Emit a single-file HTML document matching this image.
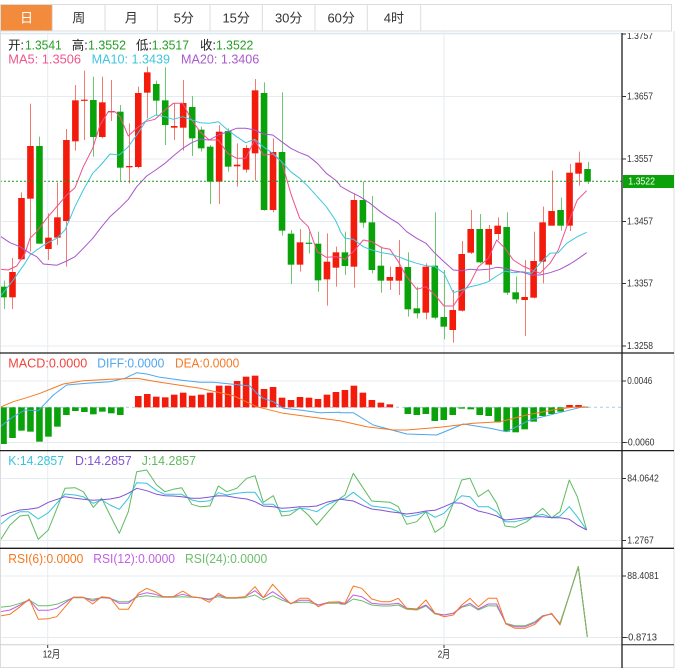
<!DOCTYPE html>
<html>
<head>
<meta charset="utf-8">
<style>
html,body{margin:0;padding:0;background:#fff;width:679px;height:670px;overflow:hidden;}
svg{display:block;font-family:"Liberation Sans","Noto Sans CJK SC",sans-serif;}
</style>
</head>
<body>
<svg id="c" width="679" height="670" viewBox="0 0 679 670" xmlns="http://www.w3.org/2000/svg">
<defs>
  <clipPath id="plot"><rect x="0" y="33" width="622" height="612"/></clipPath>
  <clipPath id="topLbl"><rect x="622" y="33" width="57" height="20"/></clipPath>
</defs>
<rect x="0" y="0" width="679" height="670" fill="#fff"/>

<!-- grid -->
<g stroke="#e5ecf1" stroke-width="1">
  <line x1="0" y1="33.5" x2="622" y2="33.5" stroke="#dbe7f0" stroke-width="1.5"/>
  <line x1="0" y1="96.5" x2="622" y2="96.5"/>
  <line x1="0" y1="159" x2="622" y2="159"/>
  <line x1="0" y1="221.5" x2="622" y2="221.5"/>
  <line x1="0" y1="283.5" x2="622" y2="283.5"/>
  <line x1="0" y1="346" x2="622" y2="346"/>
  <line x1="0" y1="381" x2="622" y2="381"/>
  <line x1="0" y1="442.5" x2="622" y2="442.5"/>
  <line x1="0" y1="478.5" x2="622" y2="478.5"/>
  <line x1="0" y1="540.5" x2="622" y2="540.5"/>
  <line x1="0" y1="576" x2="622" y2="576"/>
  <line x1="0" y1="637.5" x2="622" y2="637.5"/>
  <line x1="47.7" y1="31" x2="47.7" y2="645"/>
  <line x1="444" y1="31" x2="444" y2="645"/>
</g>
<line x1="0" y1="407.3" x2="622" y2="407.3" stroke="#a9cfe6" stroke-width="1" stroke-dasharray="3,3"/>

<g id="plotg" clip-path="url(#plot)"></g>

<!-- current price dotted line -->
<line x1="0" y1="181.3" x2="622" y2="181.3" stroke="#1f9a1f" stroke-width="1" stroke-dasharray="2,2"/>

<!-- borders -->
<line x1="0.5" y1="31" x2="0.5" y2="668" stroke="#dcdcdc" stroke-width="1"/>
<line x1="674" y1="31" x2="674" y2="668" stroke="#dcdcdc" stroke-width="1"/>
<line x1="0" y1="667.5" x2="674" y2="667.5" stroke="#dcdcdc" stroke-width="1"/>
<line x1="0" y1="644.7" x2="622" y2="644.7" stroke="#cfcfcf" stroke-width="1"/>
<line x1="622" y1="644.7" x2="674" y2="644.7" stroke="#222" stroke-width="1"/>
<g stroke="#1e1e1e" stroke-width="1.3">
  <line x1="0" y1="353" x2="674" y2="353"/>
  <line x1="0" y1="450.6" x2="674" y2="450.6"/>
  <line x1="0" y1="548.3" x2="674" y2="548.3"/>
  <line x1="622" y1="33" x2="622" y2="668"/>
</g>
<!-- axis ticks -->
<g stroke="#333" stroke-width="1">
  <line x1="622" y1="34" x2="626" y2="34"/>
  <line x1="622" y1="96.5" x2="626" y2="96.5"/>
  <line x1="622" y1="159" x2="626" y2="159"/>
  <line x1="622" y1="221.5" x2="626" y2="221.5"/>
  <line x1="622" y1="283.5" x2="626" y2="283.5"/>
  <line x1="622" y1="346" x2="626" y2="346"/>
  <line x1="622" y1="381" x2="626" y2="381"/>
  <line x1="622" y1="442.5" x2="626" y2="442.5"/>
  <line x1="622" y1="478.5" x2="626" y2="478.5"/>
  <line x1="622" y1="540.5" x2="626" y2="540.5"/>
  <line x1="622" y1="576" x2="626" y2="576"/>
  <line x1="622" y1="637.5" x2="626" y2="637.5"/>
  <line x1="47.7" y1="645" x2="47.7" y2="648"/>
  <line x1="444" y1="645" x2="444" y2="648"/>
</g>

<!-- right axis labels -->
<g font-size="10.5" fill="#333" dominant-baseline="central">
  <text x="627" y="36" textLength="26" lengthAdjust="spacingAndGlyphs" clip-path="url(#topLbl)">1.3757</text>
  <text x="627" y="96.5" textLength="26" lengthAdjust="spacingAndGlyphs">1.3657</text>
  <text x="627" y="159" textLength="26" lengthAdjust="spacingAndGlyphs">1.3557</text>
  <text x="627" y="221.5" textLength="26" lengthAdjust="spacingAndGlyphs">1.3457</text>
  <text x="627" y="283.5" textLength="26" lengthAdjust="spacingAndGlyphs">1.3357</text>
  <text x="627" y="346" textLength="26" lengthAdjust="spacingAndGlyphs">1.3258</text>
  <text x="627.3" y="381" textLength="25" lengthAdjust="spacingAndGlyphs">0.0046</text>
  <text x="625" y="442.7" textLength="29.5" lengthAdjust="spacingAndGlyphs">-0.0060</text>
  <text x="627.3" y="478.3" textLength="31.5" lengthAdjust="spacingAndGlyphs">84.0642</text>
  <text x="627.3" y="540.7" textLength="26.5" lengthAdjust="spacingAndGlyphs">1.2767</text>
  <text x="627.3" y="576" textLength="31.5" lengthAdjust="spacingAndGlyphs">88.4081</text>
  <text x="625" y="637.3" textLength="32" lengthAdjust="spacingAndGlyphs">-0.8713</text>
  <text x="42.7" y="654.5" textLength="17.5" lengthAdjust="spacingAndGlyphs" fill="#222">12月</text>
  <text x="437.7" y="654.5" textLength="12.5" lengthAdjust="spacingAndGlyphs" fill="#222">2月</text>
</g>
<!-- current price box -->
<rect x="623" y="175" width="51" height="13" fill="#0ba10b"/>
<text x="628.3" y="181.6" font-size="10.5" fill="#fff" dominant-baseline="central" textLength="26.7" lengthAdjust="spacingAndGlyphs">1.3522</text>

<!-- header texts -->
<g font-size="12.5" dominant-baseline="central">
  <text x="8" y="45.7" fill="#222">开:</text>
  <text x="25" y="45.7" fill="#23a023" textLength="36.7" lengthAdjust="spacingAndGlyphs">1.3541</text>
  <text x="71.7" y="45.7" fill="#222">高:</text>
  <text x="88" y="45.7" fill="#23a023" textLength="38" lengthAdjust="spacingAndGlyphs">1.3552</text>
  <text x="136" y="45.7" fill="#222">低:</text>
  <text x="151.7" y="45.7" fill="#23a023" textLength="37.3" lengthAdjust="spacingAndGlyphs">1.3517</text>
  <text x="200" y="45.7" fill="#222">收:</text>
  <text x="216" y="45.7" fill="#23a023" textLength="37.3" lengthAdjust="spacingAndGlyphs">1.3522</text>
  <text x="8.3" y="59.3" fill="#f0558c" textLength="72.7" lengthAdjust="spacingAndGlyphs">MA5: 1.3506</text>
  <text x="91.7" y="59.3" fill="#3ec6de" textLength="78.3" lengthAdjust="spacingAndGlyphs">MA10: 1.3439</text>
  <text x="181" y="59.3" fill="#a85acc" textLength="78.3" lengthAdjust="spacingAndGlyphs">MA20: 1.3406</text>

  <text x="8.3" y="363.3" fill="#f0443c" textLength="79" lengthAdjust="spacingAndGlyphs">MACD:0.0000</text>
  <text x="97.3" y="363.3" fill="#4ea6ee" textLength="67" lengthAdjust="spacingAndGlyphs">DIFF:0.0000</text>
  <text x="175" y="363.3" fill="#f47a24" textLength="64.3" lengthAdjust="spacingAndGlyphs">DEA:0.0000</text>

  <text x="8.3" y="461" fill="#37c3dc" textLength="55.7" lengthAdjust="spacingAndGlyphs">K:14.2857</text>
  <text x="75" y="461" fill="#8452d4" textLength="56.7" lengthAdjust="spacingAndGlyphs">D:14.2857</text>
  <text x="141.7" y="461" fill="#5fba5f" textLength="54.3" lengthAdjust="spacingAndGlyphs">J:14.2857</text>

  <text x="8.3" y="559" fill="#f5791f" textLength="75" lengthAdjust="spacingAndGlyphs">RSI(6):0.0000</text>
  <text x="93.3" y="559" fill="#c160e0" textLength="81.7" lengthAdjust="spacingAndGlyphs">RSI(12):0.0000</text>
  <text x="185" y="559" fill="#6cbe6c" textLength="82.3" lengthAdjust="spacingAndGlyphs">RSI(24):0.0000</text>
</g>

<!-- tab bar -->
<rect x="0.5" y="4.5" width="671" height="26.5" fill="#fff" stroke="#dcdcdc" stroke-width="1"/>
<rect x="1" y="5" width="51.3" height="25.5" fill="#f38b3c"/>
<g stroke="#dcdcdc" stroke-width="1">
  <line x1="52.3" y1="4.5" x2="52.3" y2="31"/>
  <line x1="105" y1="4.5" x2="105" y2="31"/>
  <line x1="157.3" y1="4.5" x2="157.3" y2="31"/>
  <line x1="210" y1="4.5" x2="210" y2="31"/>
  <line x1="262.3" y1="4.5" x2="262.3" y2="31"/>
  <line x1="315" y1="4.5" x2="315" y2="31"/>
  <line x1="367.3" y1="4.5" x2="367.3" y2="31"/>
  <line x1="420.7" y1="4.5" x2="420.7" y2="31"/>
</g>
<g font-size="13" text-anchor="middle" dominant-baseline="central" fill="#333">
  <text x="26.5" y="18" fill="#fff">日</text>
  <text x="78.7" y="18">周</text>
  <text x="131.2" y="18">月</text>
  <text x="183.7" y="18">5分</text>
  <text x="236.2" y="18">15分</text>
  <text x="288.7" y="18">30分</text>
  <text x="341.2" y="18">60分</text>
  <text x="393.9" y="18">4时</text>
</g>
</svg>

<script>
(function(){
var NS='http://www.w3.org/2000/svg';
var g=document.getElementById('plotg');
function el(tag,a,p){var e=document.createElementNS(NS,tag);for(var k in a)e.setAttribute(k,a[k]);(p||g).appendChild(e);return e;}
function cx(k){return 3.5+(k-1)*8.985;}

var C=[
[680,712,662,747,'g'],[636,712,594,747,'r'],[414,598,397,600,'r'],[258,416,131,575,'r'],[258,551,230,551,'g'],
[533,567,460,600,'r'],[472,533,367,555,'r'],[240,483,207,620,'r'],[121,244,75,272,'r'],[119,122,32,240,'r'],
[120,231,50,290,'g'],[127,231,50,235,'r'],[153,157,60,183,'r'],[155,323,135,362,'g'],[318,322,190,370,'r'],
[99,321,80,325,'r'],[37,98,20,175,'r'],[72,122,62,165,'g'],[121,195,22,255,'g'],[198,203,130,240,'r'],
[129,203,60,272,'r'],[141,235,108,288,'g'],[209,265,200,275,'g'],[260,365,255,432,'g'],[215,365,195,432,'r'],
[213,320,205,335,'g'],[314,319,250,380,'r'],[264,329,255,338,'r'],[91,280,57,362,'r'],[99,450,67,452,'g'],
[276,450,235,457,'r'],[276,512,97,527,'g'],[521,614,510,672,'g'],[547,614,507,635,'r'],[548,551,515,580,'g'],
[551,661,515,695,'g'],[605,658,520,737,'r'],[577,623,560,680,'r'],
[577,618,515,645,'g'],[420,620,400,683,'r'],[420,488,365,503,'g'],[487,630,408,640,'g'],[617,662,560,698,'g'],
[651,662,620,690,'r'],[621,662,540,705,'r'],[621,748,577,770,'g'],[745,760,680,775,'g'],[620,758,610,778,'r'],
[617,773,457,778,'g'],[771,800,630,838,'g'],[750,810,690,848,'r'],[582,752,543,755,'r'],[507,578,450,582,'r'],
[507,607,462,610,'g'],[507,614,495,665,'r'],[497,522,472,540,'r'],[501,698,457,705,'g'],[697,718,650,730,'g'],
[711,720,600,828,'r'],[603,713,515,715,'r'],[487,605,440,670,'r'],[453,497,332,497,'r'],[450,497,413,512,'g'],
[338,497,312,513,'r'],[308,341,275,377,'r'],[327,365,306,372,'g']
];
var RED='#f31c0c',GRN='#0aa20a',RW='#f47a70',GW='#6cc86c';
function Y(z){return 60+z/3;}
for(var i=0;i<C.length;i++){
  var d=C[i],x=cx(i+1),col=d[4]=='r'?RED:GRN,wc=d[4]=='r'?RW:GW;
  var xw=Math.round(x)+0.5;
  el('line',{x1:xw,y1:Y(d[2]),x2:xw,y2:Y(d[3]),stroke:wc,'stroke-width':1});
  var t=Y(d[0]),b=Y(d[1]);
  el('rect',{x:(x-3.3).toFixed(2),y:t.toFixed(2),width:6.6,height:Math.max(1.2,b-t).toFixed(2),fill:col});
}

function poly(segs,yoff,color,w){
  var pts=[];
  segs.forEach(function(s){var xo=s[0],a=s[1];for(var i=0;i<a.length;i+=2){pts.push((xo+a[i]/3).toFixed(1)+','+(yoff+a[i+1]/3).toFixed(1));}});
  el('polyline',{points:pts.join(' '),fill:'none',stroke:color,'stroke-width':w,'stroke-linejoin':'round'});
}

// MA lines
poly([[0,[0,628,25,630,50,618,75,580,90,535,110,515,140,475,170,440,200,405,225,383,250,320,278,265,300,195,325,155,345,155,360,170,385,228,410,205,435,185,465,178,495,150,520,130,548,130,575,180,600,215,628,240,655,240,683,280,710,295,737,295,764,240,790,285,818,283,845,305,872,400,899,475,925,500,952,575,979,592,1006,590,1020,592]],
      [340,[0,592,15,598,40,575,70,540,95,545,125,563,150,568,175,605,200,650,230,688,258,680,285,705,312,738,340,738,365,700,390,670,415,620,445,595,470,540,495,565,520,600,548,618,575,630,600,640,630,610,655,570,680,500,712,420,740,392]]],60,'#f0508c',1);
poly([[0,[0,710,40,660,75,610,90,585,110,570,140,550,170,535,195,510,225,440,250,390,278,340,305,312,330,282,358,285,385,260,410,225,440,180,467,165,495,170,520,178,548,170,575,180,600,188,628,190,655,185,683,210,710,230,737,248,764,238,790,260,818,280,845,305,872,335,899,355,925,380,952,410,979,440,1006,480,1020,510]],
      [340,[0,513,15,535,40,538,70,560,95,570,125,578,150,582,175,590,200,600,230,610,258,617,285,620,312,640,340,698,365,690,390,680,415,675,445,665,470,648,495,633,520,638,548,635,575,640,600,610,630,580,655,578,680,550,712,530,740,517]]],60,'#3ec6de',1);
poly([[0,[0,528,30,548,60,560,90,580,110,590,130,612,170,616,200,603,225,590,250,565,278,535,305,500,330,470,358,445,385,418,410,380,440,348,467,330,495,310,520,288,548,265,575,248,600,238,628,240,655,225,683,215,710,205,737,205,764,210,790,222,818,225,845,245,872,265,899,278,925,288,952,310,979,340,1006,360,1020,375]],
      [340,[0,378,30,395,60,410,90,430,125,458,150,475,175,490,200,515,230,535,258,550,285,580,312,605,340,630,365,632,390,628,415,630,445,628,470,622,495,625,520,632,548,637,575,645,600,645,630,638,660,628,690,612,712,598,740,578]]],60,'#a855cc',1);

// MACD bars
var M=[282,264,242,245,275,260,230,195,183,186,193,185,190,195,172,138,132,140,142,134,128,137,134,128,107,107,93,80,77,117,111,143,150,141,143,147,134,126,120,107,128,150,158,163,172,192,195,192,213,210,195,176,178,195,198,217,245,247,238,215,198,192,185,165,165,172];
var z0=350+172/3;
for(var j=0;j<M.length;j++){
  if(M[j]==172)continue;
  var y=350+M[j]/3,x2=cx(j+1);
  var top=Math.min(y,z0),h=Math.abs(y-z0);
  el('rect',{x:(x2-3.3).toFixed(2),y:top.toFixed(2),width:6.6,height:Math.max(1,h).toFixed(2),fill:M[j]<172?RED:GRN});
}
poly([[0,[0,230,40,200,75,180,115,182,160,135,200,105,260,100,330,95,375,85,410,68,440,72,480,82,540,90,600,97,640,97,700,103,750,108,770,130,790,145,820,155,850,175,900,180,960,188,1020,187]],
      [340,[0,188,40,188,100,225,200,252,290,255,370,222,450,235,500,245,570,210,650,190,730,170,745,172]]],350,'#4ea6ee',1);
poly([[0,[0,172,40,155,80,143,120,130,190,102,250,92,330,88,410,85,480,97,600,115,700,137,770,170,850,190,950,203,1020,212]],
      [340,[0,212,80,230,160,240,200,240,300,232,400,220,480,215,560,195,650,178,700,172,745,172]]],350,'#f47a24',1);

// KDJ
poly([[0,[0,287,30,240,60,213,85,210,115,283,145,255,195,130,225,128,250,140,280,187,305,160,330,210,358,265,385,200,410,80,440,75,470,120,495,140,520,133,545,128,575,178,600,185,630,183,655,123,680,140,710,130,740,100,765,92,790,172,820,152,845,213,870,210,900,188,925,210,950,240,980,205,1020,160]],
      [340,[0,160,15,150,40,85,70,130,95,168,125,170,150,172,175,185,200,238,230,230,258,200,285,262,312,243,340,175,365,105,390,100,415,155,445,135,470,175,495,243,525,247,560,230,585,210,608,190,635,218,660,200,688,105,712,155,740,255]]],445,'#5fba5f',1);
poly([[0,[0,240,30,215,60,200,85,200,115,222,145,203,195,147,225,150,250,155,280,175,305,165,330,180,358,193,385,160,410,113,440,115,470,137,495,148,520,148,545,148,575,165,600,170,630,167,655,143,680,150,710,145,740,142,765,142,790,178,820,178,845,200,870,198,900,190,925,193,950,200,980,180,1020,162]],
      [340,[0,163,15,160,40,142,70,165,95,183,125,187,150,190,175,200,200,215,230,210,258,200,285,217,312,205,340,175,365,152,390,155,415,185,445,185,470,200,495,230,525,230,560,222,585,213,608,208,635,218,660,213,688,185,712,215,740,255]]],445,'#37c3dc',1);
poly([[0,[0,215,30,203,60,195,85,193,115,188,145,172,195,155,225,160,250,163,280,166,305,164,330,162,358,157,385,145,410,130,440,137,470,148,495,152,520,153,545,155,575,160,600,160,630,156,655,152,680,153,710,158,740,162,765,170,790,183,820,185,845,190,870,188,900,185,925,185,950,183,980,172,1020,163]],
      [340,[0,163,40,168,70,182,95,192,125,196,150,200,175,203,200,207,230,203,258,198,285,196,312,185,340,173,365,175,390,187,415,198,445,205,470,213,495,225,525,222,560,218,585,215,608,215,635,218,660,218,688,223,712,240,740,255]]],445,'#8452d4',1);

// RSI
poly([[0,[0,187,30,184,60,175,88,165,115,182,145,182,170,178,220,158,250,158,278,163,305,158,330,160,358,170,385,170,415,155,440,152,465,155,490,157,520,157,548,155,575,157,600,158,628,162,655,155,680,160,705,160,735,158,765,150,790,165,818,152,845,165,872,175,900,172,925,172,955,180,985,175,1020,175]],
      [340,[0,177,15,178,40,162,65,167,95,180,125,183,150,183,175,180,200,193,230,195,258,183,285,207,312,210,340,205,365,187,390,180,415,195,445,182,470,183,498,235,525,242,555,242,585,230,608,212,635,207,660,235,688,150,715,65,742,275]]],545,'#6cbe6c',1);
poly([[0,[0,200,30,195,60,180,88,165,115,196,145,196,170,190,220,157,250,157,278,168,305,157,330,160,358,175,385,175,415,150,440,143,465,148,490,155,520,155,548,148,575,155,600,158,628,165,655,150,680,158,705,158,735,155,765,137,790,158,818,140,845,158,872,175,900,166,925,166,955,180,985,172,1020,172]],
      [340,[0,175,15,177,40,150,65,155,95,175,125,178,150,178,175,175,200,190,230,192,258,180,285,205,312,210,340,205,365,185,390,175,415,192,445,177,470,177,498,237,525,245,555,245,585,233,608,213,635,207,660,238,688,150,715,65,742,275]]],545,'#c160e0',1);
poly([[0,[0,213,30,208,60,185,88,162,115,223,145,221,170,215,220,157,250,157,278,177,305,155,330,158,358,193,385,193,415,145,440,130,465,140,490,155,520,155,548,138,575,155,600,158,628,172,655,145,680,158,705,158,735,155,765,125,790,158,818,118,845,148,872,177,900,160,925,160,955,185,985,172,1020,170]],
      [340,[0,172,15,175,40,123,65,130,95,162,125,170,150,170,175,160,200,190,230,192,258,165,285,205,312,215,340,210,365,180,390,160,415,185,445,160,470,160,498,237,525,250,555,250,585,238,608,215,635,205,660,240,688,150,715,65,742,275]]],545,'#f5791f',1);
// redraw RSI24 on top for the final spike (green dominates there)
poly([[340,[660,235,688,150,715,65,742,275]]],545,'#6cbe6c',1);
})();
</script>
</body>
</html>
